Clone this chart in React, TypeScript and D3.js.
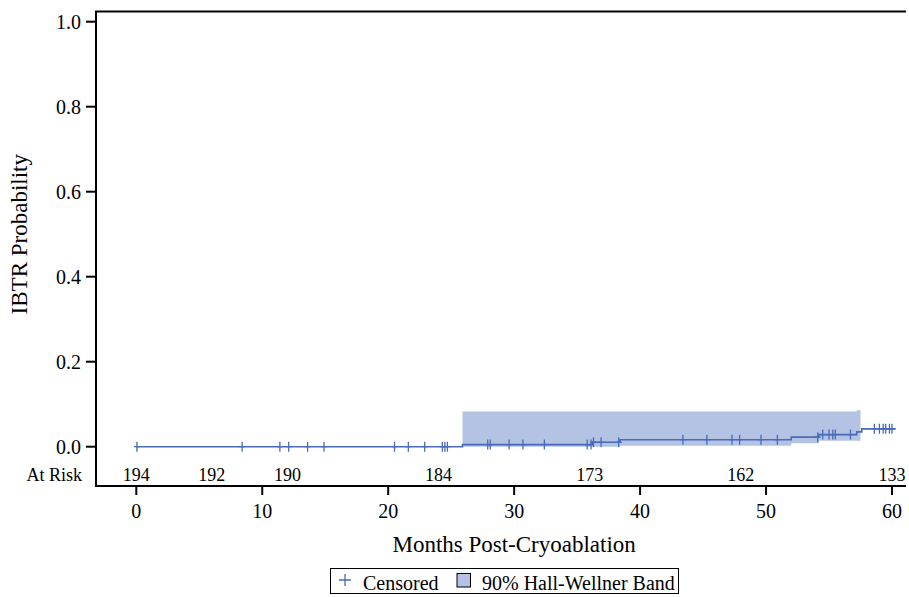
import { useEffect, useRef } from "react";
import * as d3 from "d3";

// Kaplan-Meier step curve (event times, months) and cumulative probability
const eventTimes = [0, 25.9, 36.2, 38.4, 52.0, 54.2, 57.2, 57.6];
const eventProbs = [0, 0.005, 0.0105, 0.0165, 0.0225, 0.0285, 0.035, 0.042];
const curveEnd = 60.3;

// 90% Hall-Wellner band segments
const bandTimes = [25.9, 38.4, 52.0, 54.2, 57.2, 57.5];
const bandLower = [0, 0.002, 0.008, 0.014, 0.014];
const bandUpper = [0.083, 0.083, 0.083, 0.083, 0.086];

// censored observations (months)
const censored = [
  0.05, 8.4, 11.4, 12.1, 13.6, 14.9, 20.5, 21.6, 22.9, 24.3, 24.5, 24.7,
  27.9, 28.1, 29.6, 30.7, 32.4, 35.8, 36.1, 36.3, 36.9, 38.3,
  43.4, 45.3, 47.3, 47.9, 49.6, 50.9, 54.1, 54.5, 55.0, 55.3, 55.5, 56.7,
  58.6, 59.0, 59.3, 59.5, 59.8, 60.0,
];

const atRiskTimes = [0, 6, 12, 24, 36, 48, 60];
const atRiskCounts = [194, 192, 190, 184, 173, 162, 133];

const xTicks = [0, 10, 20, 30, 40, 50, 60];
const yTicks = [0, 0.2, 0.4, 0.6, 0.8, 1.0];

const lineColor = "#4a6bb8";
const bandColor = "#b4c2e3";
const font = "'Liberation Serif', 'Times New Roman', serif";

function probAt(t: number) {
  let p = 0;
  eventTimes.forEach((et, i) => {
    if (t >= et) p = eventProbs[i];
  });
  return p;
}

export default function App() {
  const ref = useRef<SVGSVGElement>(null);
  const width = 909;
  const height = 597;
  const left = 96;
  const right = 906;
  const top = 11.5;
  const bottom = 486;
  const x = d3.scaleLinear().domain([0, 60]).range([136.3, 892]);
  const y = d3.scaleLinear().domain([0, 1]).range([446.7, 21.7]);

  useEffect(() => {
    const svg = d3.select(ref.current);
    svg.selectAll("*").remove();
    svg.style("font-family", font);

    // band
    const bandData = bandLower.map((lo, i) => ({
      x0: bandTimes[i],
      x1: bandTimes[i + 1],
      lo,
      hi: bandUpper[i],
    }));
    const bandPts: [number, number, number][] = [];
    bandData.forEach((d) => {
      bandPts.push([d.x0, d.lo, d.hi]);
      bandPts.push([d.x1, d.lo, d.hi]);
    });
    const area = d3
      .area<[number, number, number]>()
      .x((d) => x(d[0]))
      .y0((d) => y(d[1]))
      .y1((d) => y(d[2]));
    svg.append("path").attr("d", area(bandPts)).attr("fill", bandColor);

    // step line
    const pts: [number, number][] = eventTimes.map((t, i) => [t, eventProbs[i]]);
    pts.push([curveEnd, eventProbs[eventProbs.length - 1]]);
    const line = d3
      .line<[number, number]>()
      .x((d) => x(d[0]))
      .y((d) => y(d[1]))
      .curve(d3.curveStepAfter);
    svg
      .append("path")
      .attr("d", line(pts))
      .attr("fill", "none")
      .attr("stroke", lineColor)
      .attr("stroke-width", 1.6);

    // censored marks
    svg
      .append("g")
      .selectAll("path")
      .data(censored)
      .join("path")
      .attr("d", (t) => {
        const cx = x(t);
        const cy = y(probAt(t));
        return `M${cx},${cy - 5}V${cy + 5}M${cx - 3},${cy}H${cx + 3}`;
      })
      .attr("stroke", lineColor)
      .attr("stroke-width", 1.3)
      .attr("fill", "none");

    // frame
    svg
      .append("path")
      .attr("d", `M${right},${top}H${left}V${bottom}H${right}`)
      .attr("fill", "none")
      .attr("stroke", "#000")
      .attr("stroke-width", 2);

    // y axis ticks
    const yg = svg.append("g");
    yTicks.forEach((v) => {
      yg.append("line")
        .attr("x1", 86)
        .attr("x2", left)
        .attr("y1", y(v))
        .attr("y2", y(v))
        .attr("stroke", "#000")
        .attr("stroke-width", 2);
      yg.append("text")
        .attr("x", 81)
        .attr("y", y(v) + 7)
        .attr("text-anchor", "end")
        .attr("font-size", 20)
        .text(d3.format(".1f")(v));
    });

    // x axis ticks
    const xg = svg.append("g");
    xTicks.forEach((v) => {
      xg.append("line")
        .attr("x1", x(v))
        .attr("x2", x(v))
        .attr("y1", bottom)
        .attr("y2", bottom + 9)
        .attr("stroke", "#000")
        .attr("stroke-width", 2);
      xg.append("text")
        .attr("x", x(v))
        .attr("y", 518)
        .attr("text-anchor", "middle")
        .attr("font-size", 20)
        .text(v);
    });

    // at risk row
    svg
      .append("text")
      .attr("x", 82)
      .attr("y", 481)
      .attr("text-anchor", "end")
      .attr("font-size", 18)
      .text("At Risk");
    svg
      .append("g")
      .selectAll("text")
      .data(atRiskTimes)
      .join("text")
      .attr("x", (t) => x(t))
      .attr("y", 481)
      .attr("text-anchor", "middle")
      .attr("font-size", 18)
      .text((_, i) => atRiskCounts[i]);

    // axis labels
    svg
      .append("text")
      .attr("x", x(30))
      .attr("y", 552)
      .attr("text-anchor", "middle")
      .attr("font-size", 23)
      .text("Months Post-Cryoablation");
    svg
      .append("text")
      .attr("transform", `translate(27,${(y(0) + y(1)) / 2}) rotate(-90)`)
      .attr("text-anchor", "middle")
      .attr("font-size", 23)
      .text("IBTR Probability");

    // legend
    const lg = svg.append("g");
    lg.append("rect")
      .attr("x", 330.5)
      .attr("y", 568.5)
      .attr("width", 348)
      .attr("height", 25)
      .attr("fill", "none")
      .attr("stroke", "#000")
      .attr("stroke-width", 1);
    lg.append("path")
      .attr("d", "M345,574V586M339,580H351")
      .attr("stroke", lineColor)
      .attr("stroke-width", 1.3);
    lg.append("text")
      .attr("x", 363)
      .attr("y", 590)
      .attr("font-size", 20)
      .text("Censored");
    lg.append("rect")
      .attr("x", 457)
      .attr("y", 573.5)
      .attr("width", 13.5)
      .attr("height", 13.5)
      .attr("fill", bandColor)
      .attr("stroke", "#000")
      .attr("stroke-width", 1);
    lg.append("text")
      .attr("x", 482)
      .attr("y", 590)
      .attr("font-size", 20)
      .text("90% Hall-Wellner Band");
  }, []);

  return (
    <svg
      ref={ref}
      width={width}
      height={height}
      style={{ position: "absolute", left: 0, top: 0, background: "#fff" }}
    />
  );
}
